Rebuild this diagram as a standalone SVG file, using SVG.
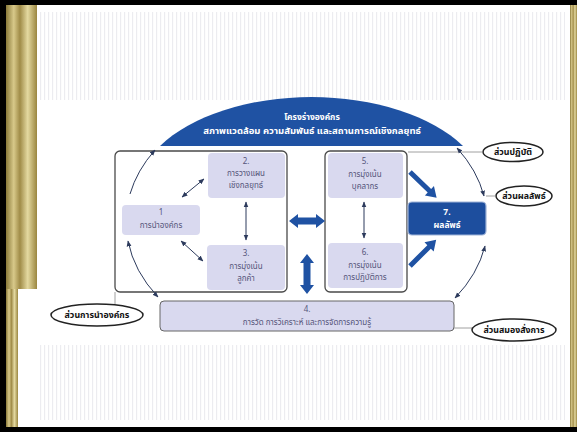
<svg xmlns="http://www.w3.org/2000/svg" width="577" height="432" viewBox="0 0 577 432">
<defs>
<linearGradient id="gold" x1="0" y1="0" x2="1" y2="0">
<stop offset="0" stop-color="#8a7a3a"/>
<stop offset="0.25" stop-color="#d8c98a"/>
<stop offset="0.45" stop-color="#a08c48"/>
<stop offset="0.7" stop-color="#e4d9a0"/>
<stop offset="1" stop-color="#9a8640"/>
</linearGradient>
<pattern id="stripes" width="4" height="10" patternUnits="userSpaceOnUse">
<rect x="0" y="0" width="1.2" height="10" fill="#ececf0"/>
</pattern>
<marker id="ah" viewBox="0 0 10 10" refX="9" refY="5" markerWidth="6" markerHeight="6" orient="auto-start-reverse" markerUnits="userSpaceOnUse">
<path d="M0,1 L10,5 L0,9 z" fill="#2c3a5c"/>
</marker>
<style>
.big{fill:#ffffff;stroke:#4a4a4a;stroke-width:1.3}
.box{fill:#d9d9ef;stroke:none}
.t{font-family:"Noto Sans Thai","Noto Sans","DejaVu Sans",sans-serif;font-size:8px;fill:#55557a;text-anchor:middle}
.tw{font-family:"Noto Sans Thai","Noto Sans","DejaVu Sans",sans-serif;font-size:8.5px;fill:#ffffff;text-anchor:middle;font-weight:bold}
.ov{fill:#ffffff;stroke:#222;stroke-width:1.5}
.to{font-family:"Noto Sans Thai","Noto Sans","DejaVu Sans",sans-serif;font-size:8.8px;fill:#111;text-anchor:middle;font-weight:bold}
.thin{fill:none;stroke:#2c3a5c;stroke-width:1}
.lead{fill:none;stroke:#888;stroke-width:0.8}
.blue{fill:#1f52a3}
</style>
</defs>
<!-- frame -->
<rect x="0" y="0" width="577" height="432" fill="#000"/>
<rect x="6" y="5" width="567" height="422" fill="#ffffff"/>
<rect x="6" y="5" width="31" height="284" fill="url(#gold)"/>
<rect x="6" y="289" width="12" height="138" fill="url(#gold)"/>
<rect x="570" y="5" width="7" height="422" fill="url(#gold)"/>
<rect x="40" y="12" width="525" height="88" fill="url(#stripes)"/>
<rect x="40" y="345" width="525" height="75" fill="url(#stripes)"/>

<!-- dome -->
<g id="profile">
<path d="M160,146 A175,98 0 0 1 463,146 Z" fill="#1f52a3"/>
<text class="tw" x="312" y="120">โครงร่างองค์กร</text>
<text class="tw" x="312" y="134" style="font-size:9.5px">สภาพแวดล้อม ความสัมพันธ์ และสถานการณ์เชิงกลยุทธ์</text>
</g>

<!-- big containers -->
<g id="left-group"><rect class="big" x="115" y="151" width="172" height="141" rx="5"/></g>
<g id="right-group"><rect class="big" x="325" y="151" width="82" height="141" rx="5"/></g>

<g id="n2"><rect class="box" x="208" y="153" width="77" height="45" rx="4"/>
<text class="t" x="246" y="164">2.</text><text class="t" x="246" y="176">การวางแผน</text><text class="t" x="246" y="188">เชิงกลยุทธ์</text></g>
<g id="n1"><rect class="box" x="122" y="205" width="78" height="30" rx="4"/>
<text class="t" x="161" y="215">1</text><text class="t" x="161" y="228">การนำองค์กร</text></g>
<g id="n3"><rect class="box" x="207" y="245" width="78" height="45" rx="4"/>
<text class="t" x="246" y="256">3.</text><text class="t" x="246" y="269">การมุ่งเน้น</text><text class="t" x="246" y="281">ลูกค้า</text></g>
<g id="n5"><rect class="box" x="328" y="153" width="75" height="45" rx="4"/>
<text class="t" x="365" y="164">5.</text><text class="t" x="365" y="177">การมุ่งเน้น</text><text class="t" x="365" y="189">บุคลากร</text></g>
<g id="n6"><rect class="box" x="328" y="243" width="75" height="45" rx="4"/>
<text class="t" x="365" y="255">6.</text><text class="t" x="365" y="268">การมุ่งเน้น</text><text class="t" x="365" y="280">การปฏิบัติการ</text></g>
<g id="n7"><rect x="408" y="202" width="78" height="33" rx="4" fill="#1d4e9e" stroke="#9fb3d8" stroke-width="1.2"/>
<text class="tw" x="447" y="215">7.</text><text class="tw" x="447" y="228">ผลลัพธ์</text></g>
<g id="n4"><rect x="160" y="301" width="294" height="30" rx="4" fill="#d9d9ef" stroke="#666" stroke-width="1"/>
<text class="t" x="307" y="312">4.</text><text class="t" x="307" y="325">การวัด การวิเคราะห์ และการจัดการความรู้</text></g>

<!-- ovals -->
<g id="o-practice"><ellipse class="ov" cx="513" cy="152" rx="30" ry="9.5"/><text class="to" x="513" y="155">ส่วนปฏิบัติ</text></g>
<g id="o-result"><ellipse class="ov" cx="524" cy="196" rx="28" ry="10"/><text class="to" x="524" y="199">ส่วนผลลัพธ์</text></g>
<g id="o-lead"><ellipse class="ov" cx="97" cy="315" rx="46" ry="11"/><text class="to" x="97" y="318">ส่วนการนำองค์กร</text></g>
<g id="o-brain"><ellipse class="ov" cx="514" cy="330" rx="42" ry="11"/><text class="to" x="514" y="333">ส่วนสมองสั่งการ</text></g>

<!-- connectors -->
<g id="connectors">
<line class="lead" x1="408" y1="152" x2="483" y2="152"/>
<line class="lead" x1="486" y1="196" x2="496" y2="196"/>
<line class="lead" x1="115" y1="292" x2="115" y2="304"/>
<line class="lead" x1="454" y1="328" x2="472" y2="328"/>

<line class="thin" x1="182" y1="197" x2="204" y2="179" marker-start="url(#ah)" marker-end="url(#ah)"/>
<line class="thin" x1="181" y1="241" x2="203" y2="261" marker-start="url(#ah)" marker-end="url(#ah)"/>
<line class="thin" x1="246" y1="202" x2="246" y2="240" marker-start="url(#ah)" marker-end="url(#ah)"/>
<line class="thin" x1="364" y1="202" x2="364" y2="238" marker-start="url(#ah)" marker-end="url(#ah)"/>

<path class="thin" d="M130,194 A181,132 0 0 1 155,150" marker-end="url(#ah)"/>
<path class="thin" d="M128,241 A181,132 0 0 0 158,297" marker-start="url(#ah)" marker-end="url(#ah)"/>
<path class="thin" d="M457,148 A181,132 0 0 1 484,196" marker-start="url(#ah)" marker-end="url(#ah)"/>
<path class="thin" d="M485,246 A181,132 0 0 1 455,298" marker-start="url(#ah)" marker-end="url(#ah)"/>

<polygon class="blue" points="289,221 298,214 298,217.5 316,217.5 316,214 325,221 316,228 316,224.5 298,224.5 298,228"/>
<polygon class="blue" points="307,254 314,263 310.5,263 310.5,285 314,285 307,294 300,285 303.5,285 303.5,263 300,263"/>
<polygon class="blue" transform="translate(410,172) rotate(44)" points="0,-2.5 27,-2.5 27,-6.5 37,0 27,6.5 27,2.5 0,2.5"/>
<polygon class="blue" transform="translate(410,266) rotate(-45)" points="0,-2.5 27,-2.5 27,-6.5 37,0 27,6.5 27,2.5 0,2.5"/>
</g>
</svg>
